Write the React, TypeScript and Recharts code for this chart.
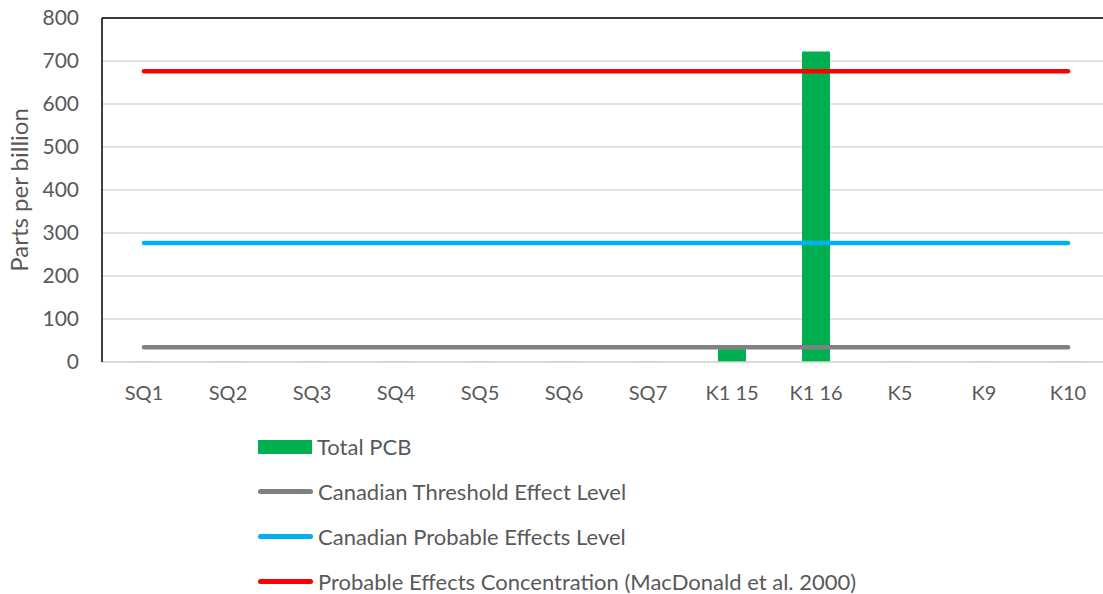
import { ComposedChart, Bar, Line, XAxis, YAxis, CartesianGrid, ReferenceLine } from 'recharts';

const categories = ['SQ1', 'SQ2', 'SQ3', 'SQ4', 'SQ5', 'SQ6', 'SQ7', 'K1 15', 'K1 16', 'K5', 'K9', 'K10'];
const totalPcb = [1, 1, 1, 1, 1, 1, 1, 30, 722, 1, 1, 1];
const thresholdEffect = [34.1, 34.1, 34.1, 34.1, 34.1, 34.1, 34.1, 34.1, 34.1, 34.1, 34.1, 34.1];
const probableEffects = [277, 277, 277, 277, 277, 277, 277, 277, 277, 277, 277, 277];
const probableConc = [676, 676, 676, 676, 676, 676, 676, 676, 676, 676, 676, 676];
const yTicks = [0, 100, 200, 300, 400, 500, 600, 700, 800];

const seriesNames = [
  'Total PCB',
  'Canadian Threshold Effect Level',
  'Canadian Probable Effects Level',
  'Probable Effects Concentration (MacDonald et al. 2000)',
];
const seriesColors = ['#00B050', '#808080', '#00B0F0', '#FF0000'];

const FONT = 'Lato, "Open Sans", sans-serif';
const TEXT = '#595959';

const data = categories.map((name, i) => ({
  name,
  pcb: totalPcb[i],
  tel: thresholdEffect[i],
  pel: probableEffects[i],
  pec: probableConc[i],
}));

function LegendBox() {
  return (
    <div style={{ position: 'absolute', left: 258, top: 424.6, fontFamily: FONT, fontSize: 22, color: TEXT }}>
      {seriesNames.map((n, i) => (
        <div key={n} style={{ display: 'flex', alignItems: 'center', height: 44.7 }}>
          {i === 0 ? (
            <div style={{ width: 54, height: 14, background: seriesColors[i] }} />
          ) : (
            <div style={{ width: 55, height: 5, borderRadius: 3, background: seriesColors[i] }} />
          )}
          <span style={{ marginLeft: 5, whiteSpace: 'nowrap' }}>{n}</span>
        </div>
      ))}
    </div>
  );
}

export default function App() {
  return (
    <div style={{ position: 'absolute', left: 0, top: 0, width: 1103, height: 594, overflow: 'hidden', background: '#fff' }}>
      <ComposedChart
        width={1110}
        height={594}
        data={data}
        margin={{ top: 18, right: 0, bottom: 192, left: 0 }}
        barCategoryGap={0}
        style={{ fontFamily: FONT }}
      >
        <CartesianGrid vertical={false} stroke="#D9D9D9" strokeWidth={1.3} />
        <XAxis
          dataKey="name"
          height={40}
          tickLine={false}
          tickSize={6}
          tickMargin={18}
          axisLine={{ stroke: '#D9D9D9', strokeWidth: 1.3 }}
          tick={{ fill: TEXT, fontSize: 20 }}
          interval={0}
        />
        <YAxis
          width={102}
          domain={[0, 800]}
          ticks={yTicks}
          tickLine={false}
          tickSize={6}
          tickMargin={17}
          axisLine={{ stroke: '#000', strokeWidth: 1.5 }}
          tick={{ fill: TEXT, fontSize: 21 }}
          label={{ value: 'Parts per billion', angle: -90, position: 'center', dx: -32, fill: TEXT, fontSize: 24 }}
        />
        <ReferenceLine y={800} stroke="#000" strokeWidth={1.5} />
        <Bar dataKey="pcb" fill={seriesColors[0]} barSize={28} isAnimationActive={false} />
        <Line dataKey="tel" stroke={seriesColors[1]} strokeWidth={4.5} strokeLinecap="round" dot={false} isAnimationActive={false} />
        <Line dataKey="pel" stroke={seriesColors[2]} strokeWidth={4.5} strokeLinecap="round" dot={false} isAnimationActive={false} />
        <Line dataKey="pec" stroke={seriesColors[3]} strokeWidth={4.5} strokeLinecap="round" dot={false} isAnimationActive={false} />
      </ComposedChart>
      <LegendBox />
    </div>
  );
}
